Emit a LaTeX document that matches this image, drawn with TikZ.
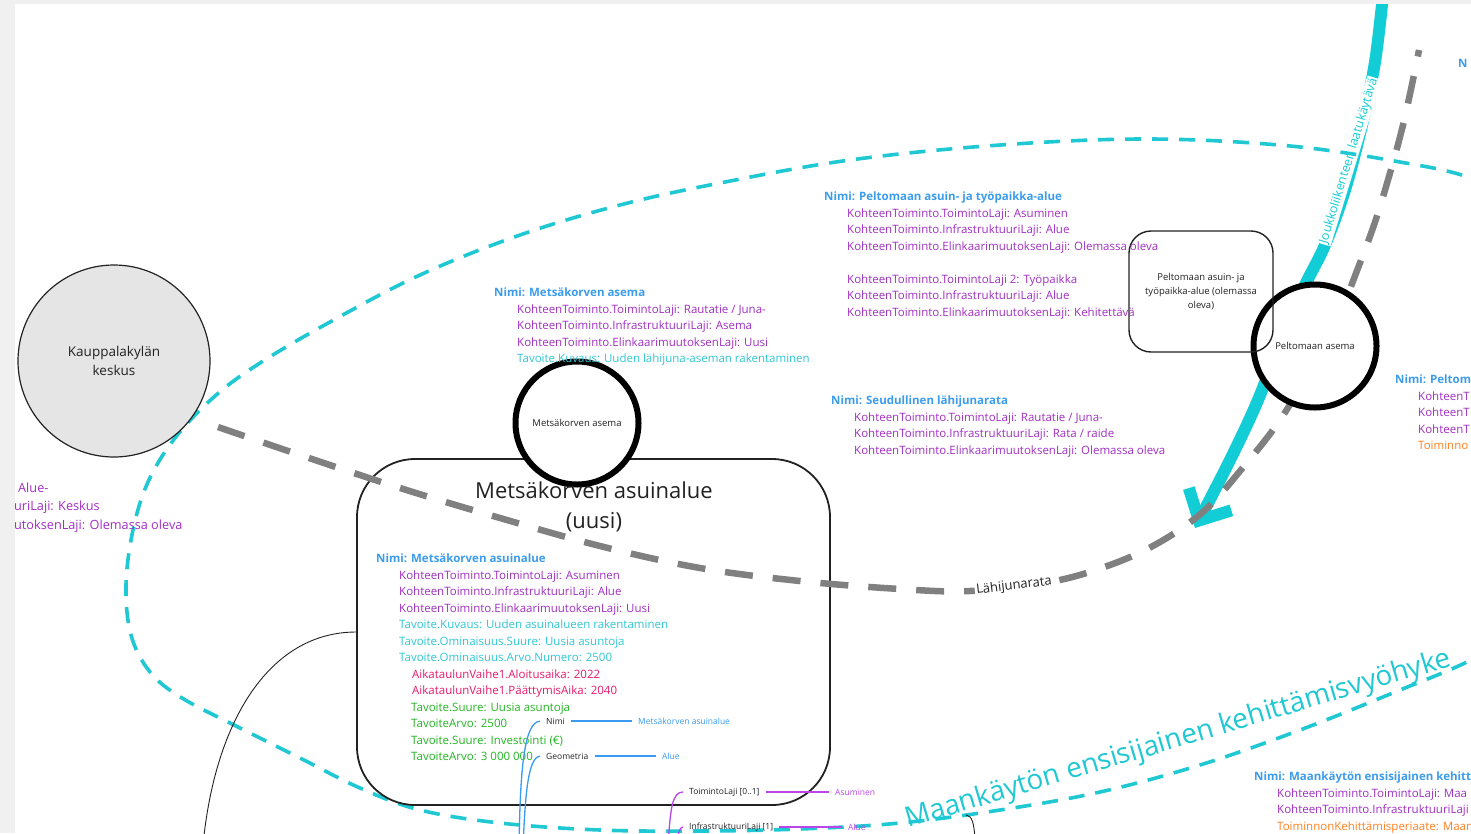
\documentclass[tikz,border=0pt]{standalone}
\usepackage{fontspec}
\setmainfont{Open Sans}
\usetikzlibrary{arrows.meta,positioning}

\definecolor{nimisin}{HTML}{3C9CEC}
\definecolor{lajivio}{HTML}{A12EC2}
\definecolor{tavoiteturk}{HTML}{2EC6D3}
\definecolor{aikapun}{HTML}{E5186A}
\definecolor{arvovihr}{HTML}{22B522}
\definecolor{periaateor}{HTML}{FF7F1E}
\definecolor{vyohyke}{HTML}{1FC8D2}
\definecolor{kaytava}{HTML}{13CDD6}
\definecolor{rata}{HTML}{808080}
\definecolor{mmsin}{HTML}{3A9BF0}
\definecolor{mmvio}{HTML}{BB45E8}
\definecolor{reuna}{HTML}{F0F0F0}
\definecolor{tumma}{HTML}{222222}

\newcommand{\nimirivi}[1]{\textcolor{nimisin}{\bfseries #1}}
\newcommand{\lajirivi}[1]{\hspace*{23pt}\textcolor{lajivio}{#1}}
\newcommand{\tavoiterivi}[1]{\hspace*{23pt}\textcolor{tavoiteturk}{#1}}
\newcommand{\aikarivi}[1]{\hspace*{36pt}\textcolor{aikapun}{#1}}
\newcommand{\arvorivi}[1]{\hspace*{35pt}\textcolor{arvovihr}{#1}}
\newcommand{\periaaterivi}[1]{\hspace*{23pt}\textcolor{periaateor}{#1}}

\tikzset{
  tieto/.style={anchor=north west, align=left, inner sep=0pt, font=\fontsize{11.5}{16.5}\selectfont},
  asema/.style={circle, draw=black, line width=6pt, fill=white, minimum size=123pt, inner sep=0pt,
    font=\fontsize{9.5}{11}\selectfont, text=tumma},
  keskus/.style={circle, draw=tumma, line width=1.2pt, fill=black!10, minimum size=192pt, align=center,
    font=\fontsize{13.5}{18.5}\selectfont, text=tumma},
  aluelaatikko/.style={draw=tumma, line width=1.8pt, rectangle},
  pienialue/.style={draw=tumma, line width=1.4pt, rectangle, rounded corners=22pt, align=center,
    font=\fontsize{9.5}{14}\selectfont, text=tumma},
  otsikko/.style={align=center, font=\fontsize{22}{30}\selectfont, text=tumma, inner sep=0pt},
  vyohykeviiva/.style={draw=vyohyke, line width=3.6pt, dash pattern=on 16pt off 11pt},
  rataviiva/.style={draw=rata, line width=6.5pt, dash pattern=on 28pt off 20pt},
  kaytavaviiva/.style={draw=kaytava, line width=12pt, -{Straight Barb[length=24pt, width=48pt]}},
  ratateksti/.style={fill=white, inner sep=1.5pt, font=\fontsize{13}{15}\selectfont, text=tumma},
  kaytavateksti/.style={fill=white, inner sep=1pt, font=\fontsize{12.5}{15}\selectfont, text=kaytava},
  ohutviiva/.style={draw=tumma, line width=0.9pt},
  mmnimike/.style={anchor=west, inner sep=3pt, font=\fontsize{8.5}{10}\selectfont, text=tumma},
  mmarvo/.style={anchor=west, inner sep=3pt, font=\fontsize{8.5}{10}\selectfont},
  mmsinviiva/.style={draw=mmsin, line width=1.3pt, shorten <=3pt, shorten >=3pt},
  mmvioviiva/.style={draw=mmvio, line width=1.3pt, shorten <=3pt, shorten >=3pt},
}

\begin{document}
\begin{tikzpicture}[x=1pt, y=-1pt]
\useasboundingbox (0,0) rectangle (1471,833);
\clip (0,0) rectangle (1471,833);

% joukkoliikenteen laatukaytava
\draw[kaytavaviiva] plot[smooth, tension=0.55] coordinates {(1383,-5) (1375,62) (1362,125) (1345,190) (1325,245) (1305,285) (1285,330) (1258,400) (1230,460) (1195,528)};
\node[kaytavateksti, rotate=73] (kaytava) at (1349,161) {Joukkoliikenteen laatukäytävä};

% kehittamisvyohyke
\draw[vyohykeviiva] plot[smooth cycle, tension=0.6] coordinates {(126,585) (131,635) (150,672) (182,698) (240,728) (300,758) (360,788) (420,810) (500,823) (600,830) (700,831) (800,829) (900,823) (1000,810) (1100,792) (1200,765) (1300,730) (1400,690) (1471,660) (1540,620) (1590,500) (1580,300) (1540,210) (1471,178) (1400,162) (1290,146) (1150,139) (1000,145) (850,160) (720,183) (620,205) (520,235) (420,275) (330,322) (260,363) (215,396) (175,438) (148,482) (133,530)};

% Kauppalakyla
\node[keskus] (kauppala) at (114,361) {Kauppalakylän\\keskus};
\node[tieto, font=\fontsize{12.7}{18.5}\selectfont, text=lajivio] (kauppalatieto) at (4,482.3) {\hspace*{14pt}Alue-\\\hspace*{10pt}uriLaji: Keskus\\\hspace*{10pt}utoksenLaji: Olemassa oleva};

% Metsakorven asuinalue
\node[aluelaatikko, minimum width=473pt, minimum height=346pt, rounded corners=58pt] (asuinalue) at (593.5,632) {};
\draw[ohutviiva] (asuinalue.west) .. controls (270,632) and (215,720) .. (203,845) coordinate (ohutpaa);

\node[tieto] (asuinaluetieto) at (376,553.6) {\nimirivi{Nimi: Metsäkorven asuinalue}\\
\lajirivi{KohteenToiminto.ToimintoLaji: Asuminen}\\
\lajirivi{KohteenToiminto.InfrastruktuuriLaji: Alue}\\
\lajirivi{KohteenToiminto.ElinkaarimuutoksenLaji: Uusi}\\
\tavoiterivi{Tavoite.Kuvaus: Uuden asuinalueen rakentaminen}\\
\tavoiterivi{Tavoite.Ominaisuus.Suure: Uusia asuntoja}\\
\tavoiterivi{Tavoite.Ominaisuus.Arvo.Numero: 2500}\\
\aikarivi{AikataulunVaihe1.Aloitusaika: 2022}\\
\aikarivi{AikataulunVaihe1.PäättymisAika: 2040}\\
\arvorivi{Tavoite.Suure: Uusia asuntoja}\\
\arvorivi{TavoiteArvo: 2500}\\
\arvorivi{Tavoite.Suure: Investointi (€)}\\
\arvorivi{TavoiteArvo: 3 000 000}};

% mind map
\coordinate (mmjuuri1) at (519,850);
\coordinate (mmjuuri2) at (523,850);
\coordinate (mmjuuri3) at (668,850);
\coordinate (mmjuuri4) at (676,850);
\node[mmnimike] (mmnimi) at (543,721) {Nimi};
\node[mmarvo, text=mmsin] (mmnimiarvo) at (635,721) {Metsäkorven asuinalue};
\node[mmnimike] (mmgeom) at (543,756) {Geometria};
\node[mmarvo, text=mmsin] (mmgeomarvo) at (659,756) {Alue};
\node[mmnimike] (mmtoim) at (686,792) {ToimintoLaji [0..1]};
\node[mmarvo, text=mmvio] (mmtoimarvo) at (832,792) {Asuminen};
\node[mmnimike] (mminfra) at (686,827) {InfrastruktuuriLaji [1]};
\node[mmarvo, text=mmvio] (mminfraarvo) at (845,827) {Alue};
\draw[mmsinviiva] (mmnimi) -- (mmnimiarvo);
\draw[mmsinviiva] (mmgeom) -- (mmgeomarvo);
\draw[mmvioviiva] (mmtoim) -- (mmtoimarvo);
\draw[mmvioviiva] (mminfra) -- (mminfraarvo);
\draw[mmsinviiva, shorten <=0pt] (mmjuuri1) .. controls (520,770) and (524,722) .. (mmnimi.west);
\draw[mmsinviiva, shorten <=0pt] (mmjuuri2) .. controls (525,795) and (528,757) .. (mmgeom.west);
\draw[mmvioviiva, shorten <=0pt] (mmjuuri3) .. controls (670,805) and (673,792) .. (mmtoim.west);
\draw[mmvioviiva, shorten <=0pt] (mmjuuri4) .. controls (677,838) and (679,827) .. (mminfra.west);
\draw[ohutviiva] (966,815) .. controls (972,816) and (974,822) .. (975,840);

% lahijunarata
\draw[rataviiva] plot[smooth, tension=0.6] coordinates {(218,427) (300,455) (400,488) (500,518) (600,546) (700,568) (800,581) (900,589) (970,591) (1050,582) (1110,565) (1160,542) (1205,510) (1245,465) (1280,420) (1310,370) (1337,320) (1358,268) (1375,222) (1390,173) (1403,125) (1414,75) (1419,50)};
\node[ratateksti, rotate=7] (lahijuna) at (1014,586) {Lähijunarata};

% asemat
\node[asema] (metsaasema) at (577,423) {Metsäkorven asema};
\node[asema] (peltoasema) at (1315,346) {Peltomaan asema};
\node[pienialue, minimum width=144pt, minimum height=121pt] (peltoalue) at (1201,291.5) {Peltomaan asuin- ja\\työpaikka-alue (olemassa\\oleva)};
\node[otsikko] (asuinotsikko) at (594,507) {Metsäkorven asuinalue\\(uusi)};

% tiedot
\node[tieto] (asematieto) at (494,288) {\nimirivi{Nimi: Metsäkorven asema}\\
\lajirivi{KohteenToiminto.ToimintoLaji: Rautatie / Juna-}\\
\lajirivi{KohteenToiminto.InfrastruktuuriLaji: Asema}\\
\lajirivi{KohteenToiminto.ElinkaarimuutoksenLaji: Uusi}\\
\tavoiterivi{Tavoite.Kuvaus: Uuden lähijuna-aseman rakentaminen}};

\node[tieto] (peltotieto) at (824,191.6) {\nimirivi{Nimi: Peltomaan asuin- ja työpaikka-alue}\\
\lajirivi{KohteenToiminto.ToimintoLaji: Asuminen}\\
\lajirivi{KohteenToiminto.InfrastruktuuriLaji: Alue}\\
\lajirivi{KohteenToiminto.ElinkaarimuutoksenLaji: Olemassa oleva}\\[16.5pt]
\lajirivi{KohteenToiminto.ToimintoLaji 2: Työpaikka}\\
\lajirivi{KohteenToiminto.InfrastruktuuriLaji: Alue}\\
\lajirivi{KohteenToiminto.ElinkaarimuutoksenLaji: Kehitettävä}};

\node[tieto] (ratatieto) at (831,396) {\nimirivi{Nimi: Seudullinen lähijunarata}\\
\lajirivi{KohteenToiminto.ToimintoLaji: Rautatie / Juna-}\\
\lajirivi{KohteenToiminto.InfrastruktuuriLaji: Rata / raide}\\
\lajirivi{KohteenToiminto.ElinkaarimuutoksenLaji: Olemassa oleva}};

\node[tieto] (peltoasematieto) at (1395,374.6) {\nimirivi{Nimi: Peltom}\\
\lajirivi{KohteenT}\\
\lajirivi{KohteenT}\\
\lajirivi{KohteenT}\\
\periaaterivi{Toiminno}};

\node[tieto] (vyohyketieto) at (1254,771.6) {\nimirivi{Nimi: Maankäytön ensisijainen kehitt}\\
\lajirivi{KohteenToiminto.ToimintoLaji: Maa}\\
\lajirivi{KohteenToiminto.InfrastruktuuriLaji}\\
\periaaterivi{ToiminnonKehittämisperiaate: Maan}};

\node[tieto] (oikeanimi) at (1458,59) {\nimirivi{N}};

\node[anchor=base west, rotate=16.6, inner sep=0pt, font=\fontsize{27.8}{30}\selectfont, text=vyohyke] (vyohykenimi) at (908,828) {Maankäytön ensisijainen kehittämisvyöhyke};

% reunat
\fill[reuna] (0,0) rectangle (15,833);
\fill[reuna] (0,0) rectangle (1471,4);
\end{tikzpicture}
\end{document}
